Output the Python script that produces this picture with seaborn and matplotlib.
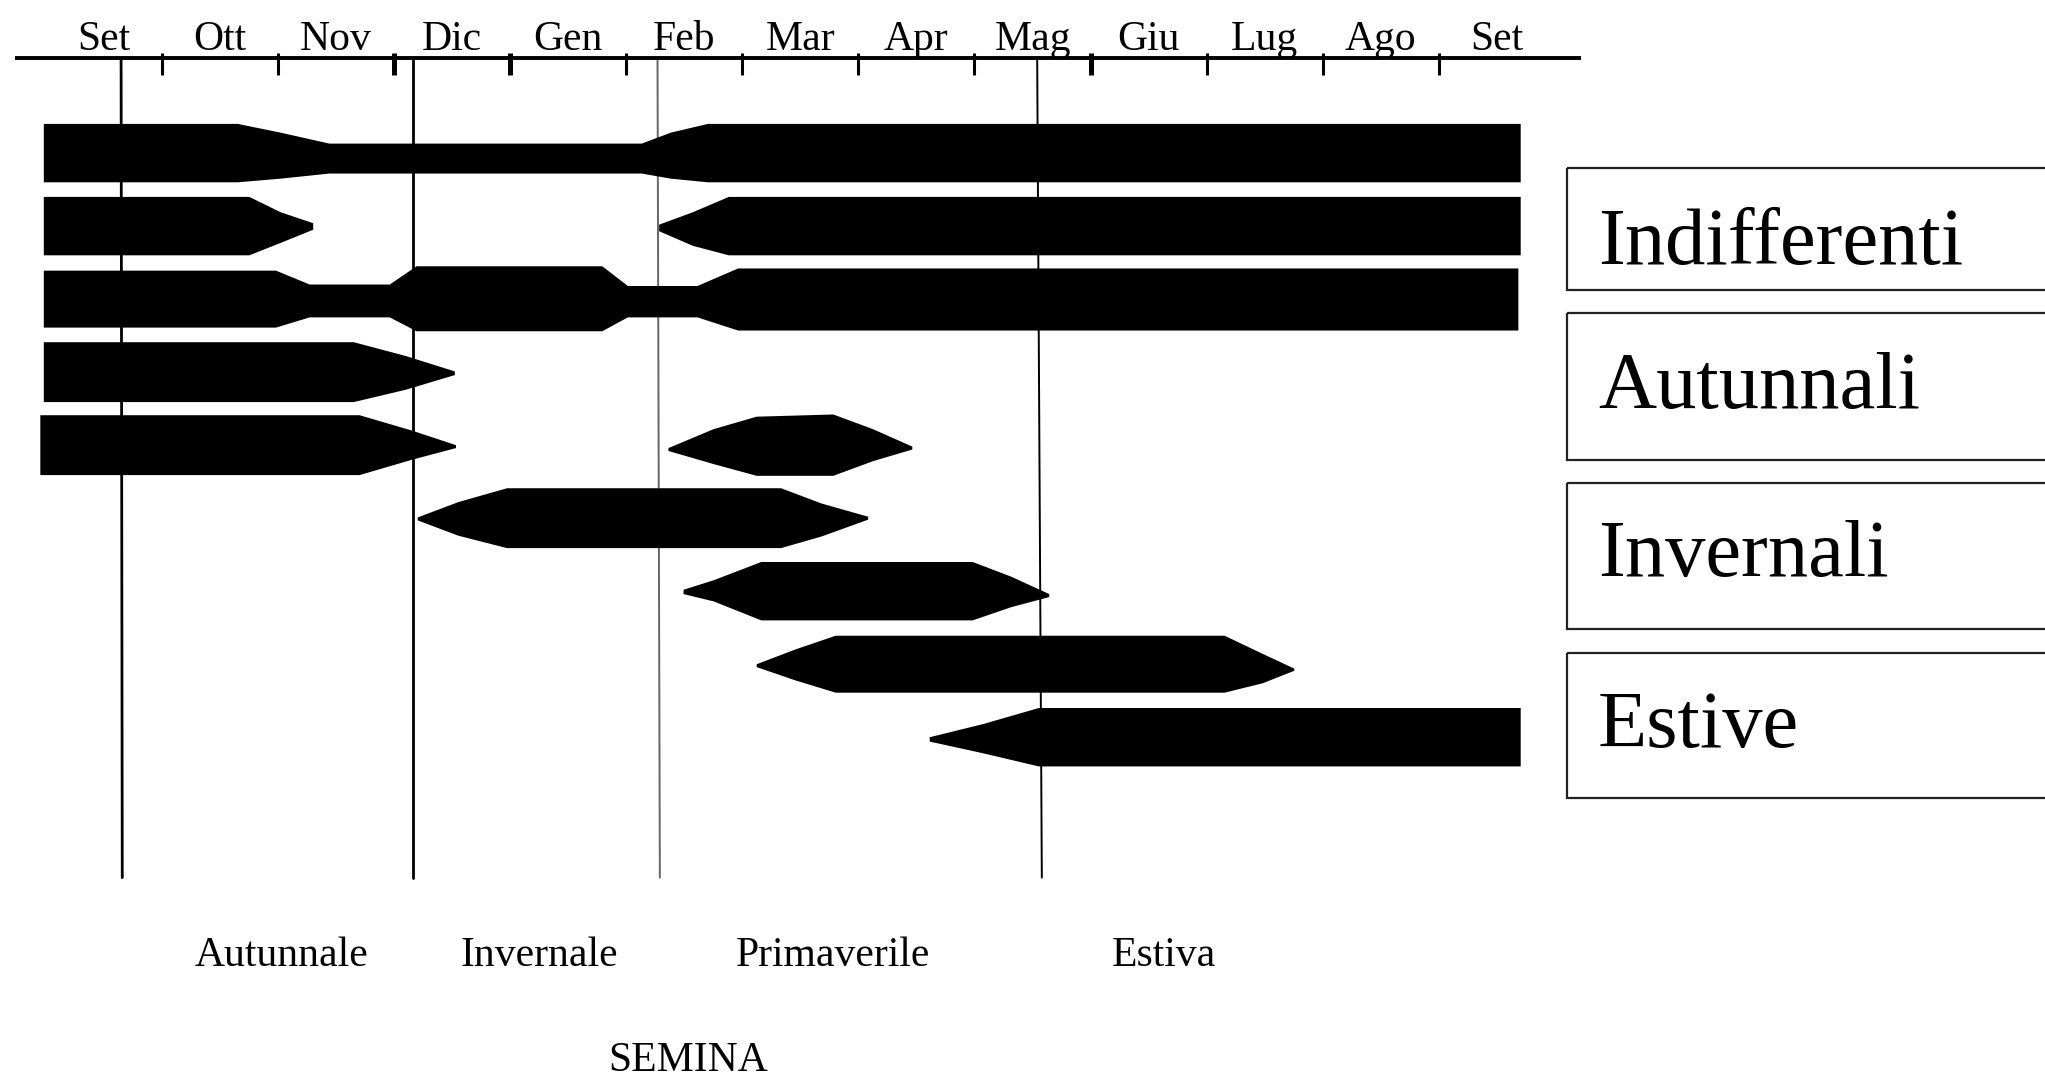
import matplotlib
matplotlib.use("Agg")
import matplotlib.pyplot as plt
import seaborn as sns
from matplotlib.patches import Rectangle

# month labels along the top axis (one per month, Set -> Set)
months = ["Set", "Ott", "Nov", "Dic", "Gen", "Feb", "Mar", "Apr",
          "Mag", "Giu", "Lug", "Ago", "Set"]
month_ticks = list(range(1, 13))

# sowing season boundaries (months from start of Set), top and bottom ends
season_bounds_top = [0.65, 3.16, 5.27, 8.54]
season_bounds_bot = [0.66, 3.16, 5.29, 8.58]
seasons = ["Autunnale", "Invernale", "Primaverile", "Estiva"]
season_x = [2.03, 4.25, 6.78, 9.63]

# legend categories
categories = ["Indifferenti", "Autunnali", "Invernali", "Estive"]

# growth period profiles: month position, upper / lower offset from row centre
r1_x = [-0.02, 1.65, 2.02, 2.44, 5.13, 5.38, 5.70, 12.70]
r1_top = [-0.40, -0.40, -0.28, -0.13, -0.13, -0.28, -0.40, -0.40]
r1_bot = [0.40, 0.40, 0.35, 0.28, 0.28, 0.35, 0.40, 0.40]

r2a_x = [-0.02, 1.75, 2.02, 2.30]
r2a_top = [-0.40, -0.40, -0.19, -0.04]
r2a_bot = [0.40, 0.40, 0.23, 0.05]

r2b_x = [5.28, 5.57, 5.88, 12.70]
r2b_top = [-0.02, -0.19, -0.40, -0.40]
r2b_bot = [0.07, 0.27, 0.40, 0.40]

r3_x = [-0.02, 1.98, 2.27, 2.96, 3.19, 4.79, 5.01, 5.61, 5.96, 12.68]
r3_top = [-0.39, -0.39, -0.20, -0.20, -0.45, -0.45, -0.18, -0.18, -0.42, -0.42]
r3_bot = [0.39, 0.39, 0.25, 0.25, 0.44, 0.44, 0.25, 0.25, 0.43, 0.43]

r4_x = [-0.02, 2.65, 3.10, 3.52]
r4_top = [-0.41, -0.41, -0.22, -0.01]
r4_bot = [0.41, 0.41, 0.24, 0.04]

r5a_x = [-0.05, 2.70, 3.15, 3.53]
r5a_top = [-0.41, -0.41, -0.20, 0.00]
r5a_bot = [0.41, 0.41, 0.20, 0.04]

r5b_x = [5.36, 5.75, 6.12, 6.78, 7.12, 7.46]
r5b_top = [0.04, -0.22, -0.39, -0.42, -0.22, 0.02]
r5b_bot = [0.08, 0.26, 0.42, 0.42, 0.22, 0.06]

r6_x = [3.20, 3.55, 3.97, 6.33, 6.68, 7.08]
r6_top = [-0.01, -0.22, -0.41, -0.41, -0.20, -0.02]
r6_bot = [0.03, 0.24, 0.41, 0.41, 0.25, 0.02]

r7_x = [5.49, 5.75, 6.16, 7.98, 8.31, 8.64]
r7_top = [-0.02, -0.15, -0.40, -0.40, -0.20, 0.04]
r7_bot = [0.04, 0.14, 0.40, 0.40, 0.22, 0.08]

r8_x = [6.12, 6.45, 6.80, 10.15, 10.48, 10.75]
r8_top = [0.00, -0.20, -0.39, -0.39, -0.14, 0.06]
r8_bot = [0.04, 0.22, 0.39, 0.39, 0.26, 0.09]

r9_x = [7.61, 8.07, 8.55, 12.70]
r9_top = [0.00, -0.18, -0.40, -0.40]
r9_bot = [0.06, 0.22, 0.40, 0.40]

pieces = [
    (1, r1_x, r1_top, r1_bot),
    (2, r2a_x, r2a_top, r2a_bot),
    (2, r2b_x, r2b_top, r2b_bot),
    (3, r3_x, r3_top, r3_bot),
    (4, r4_x, r4_top, r4_bot),
    (5, r5a_x, r5a_top, r5a_bot),
    (5, r5b_x, r5b_top, r5b_bot),
    (6, r6_x, r6_top, r6_bot),
    (7, r7_x, r7_top, r7_bot),
    (8, r8_x, r8_top, r8_bot),
    (9, r9_x, r9_top, r9_bot),
]

sns.set_theme(style="white")
plt.rcParams["font.family"] = ["Liberation Serif", "DejaVu Serif"]
plt.rcParams["text.color"] = "black"

fig = plt.figure(figsize=(20.45, 10.85), dpi=100)
ax = fig.add_axes([0, 0, 1, 1])
ax.set_xlim(-0.393, 17.22)
ax.set_ylim(13.77, -1.09)
ax.axis("off")

# top month axis
axis_y = -0.29
ax.plot([-0.26, 13.22], [axis_y, axis_y], color="black", lw=2.8, solid_capstyle="butt")
for k in month_ticks:
    lw = 3.6 if k in (3, 4, 9) else 2.2
    ax.plot([k, k], [axis_y - 0.07, axis_y + 0.23], color="black", lw=lw,
            solid_capstyle="butt")
for i, m in enumerate(months):
    ax.text(i + 0.5, -0.41, m, ha="center", va="baseline", fontsize=30)

# season boundary lines
line_styles = [("black", 2.0), ("black", 2.0), ("#666666", 1.4), ("black", 1.4)]
for xt, xb, (c, lw) in zip(season_bounds_top, season_bounds_bot, line_styles):
    ax.plot([xt, xb], [axis_y, 10.93], color=c, lw=lw, zorder=1)

# growth period shapes
for row, xs, top, bot in pieces:
    ax.fill_between(xs, [row + t for t in top], [row + b for b in bot],
                    color="black", lw=0, zorder=2)

# season labels and title
for lab, xs in zip(seasons, season_x):
    ax.text(xs, 12.14, lab, ha="center", va="baseline", fontsize=30)
ax.text(5.53, 13.58, "SEMINA", ha="center", va="baseline", fontsize=30)

# legend boxes on the right
box_top = [1.21, 3.20, 5.52, 7.86]
box_bot = [2.88, 5.21, 7.52, 9.84]
text_base = [2.52, 4.50, 6.80, 9.14]
for lab, bt, bb, tb in zip(categories, box_top, box_bot, text_base):
    ax.add_patch(Rectangle((13.10, bt), 5.0, bb - bt, fill=False,
                           edgecolor="#222222", lw=1.6, clip_on=True))
    ax.text(13.37, tb, lab, ha="left", va="baseline", fontsize=58)

fig.savefig("out.png", dpi=100)
plt.close(fig)
